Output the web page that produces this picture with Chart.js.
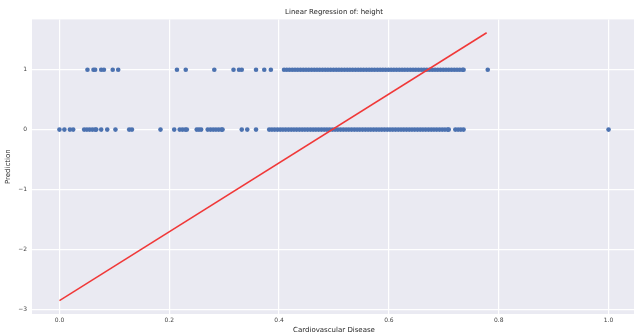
<!DOCTYPE html>
<html><head><meta charset="utf-8">
<script src="https://cdn.jsdelivr.net/npm/chart.js@4"></script>
<style>html,body{margin:0;padding:0;background:#fff;overflow:hidden}#wrap{width:640px;height:335px}</style>
</head><body><div id="wrap"><canvas id="c"></canvas></div>
<script>
const chartTitle = "Linear Regression of: height";
const xAxisTitle = "Cardiovascular Disease";
const yAxisTitle = "Prediction";
const xTickValues = [0, 0.2, 0.4, 0.6, 0.8, 1.0];
const xTickLabels = ["0.0", "0.2", "0.4", "0.6", "0.8", "1.0"];
const yTickValues = [-3, -2, -1, 0, 1];
const yTickLabels = ["\u22123", "\u22122", "\u22121", "0", "1"];

// observed x-values whose actual value is 1
const xClass1 = [0.051,0.062,0.065,0.076,0.081,0.097,0.107,0.214,0.230,0.282,0.317,0.327,0.332,0.358,0.373,0.385,
0.409,0.414,0.419,0.424,0.429,0.434,0.439,
0.444,0.449,0.454,0.459,0.464,0.469,0.474,0.479,0.484,0.489,0.494,0.499,0.504,0.509,0.514,0.519,0.524,0.529,0.534,0.539,0.544,0.549,0.554,0.559,0.564,0.569,0.574,0.579,0.584,0.589,0.594,0.599,0.604,0.609,0.614,0.619,0.624,0.629,0.634,0.639,0.644,0.649,0.654,0.659,0.664,0.669,0.674,0.679,0.684,0.689,0.694,0.699,0.704,0.709,0.714,0.719,0.724,0.729,0.734,0.736,
0.780];
// observed x-values whose actual value is 0
const xClass0 = [0.000,0.009,0.019,0.025,0.045,0.050,0.055,0.060,0.065,0.067,0.076,0.087,0.102,0.127,0.132,0.184,0.209,0.219,0.224,0.229,0.232,0.250,0.254,0.258,0.270,0.275,0.280,0.285,0.290,0.295,0.297,0.332,0.342,0.358,
0.382,0.387,0.392,0.397,0.402,0.407,0.412,0.417,0.422,0.427,0.432,0.437,0.442,0.447,0.452,0.457,0.462,0.467,0.472,0.477,0.482,0.487,0.492,0.497,0.502,0.507,0.512,0.517,0.522,0.527,0.532,0.537,0.542,0.547,0.552,0.557,0.562,0.567,0.572,0.577,0.582,0.587,0.592,0.597,0.602,0.607,0.612,0.617,0.622,0.627,0.632,0.637,0.642,0.647,0.652,0.657,0.662,0.667,0.672,0.677,0.682,0.687,0.692,0.697,0.702,0.707,0.709,
0.721,0.726,0.731,0.736,1.000];
// regression line endpoints
const lineX = [0.0, 0.778];
const lineY = [-2.857, 1.617];

const pts = xClass1.map(x => ({x: x, y: 1})).concat(xClass0.map(x => ({x: x, y: 0})));
const linePts = lineX.map((x, i) => ({x: x, y: lineY[i]}));

const bgPlugin = {
  id: 'bg',
  beforeDraw(chart) {
    const a = chart.chartArea, ctx = chart.ctx;
    ctx.save(); ctx.fillStyle = '#eaeaf2';
    ctx.fillRect(a.left, a.top, a.right - a.left, a.bottom - a.top);
    ctx.restore();
  }
};
const font = {family: 'DejaVu Sans', size: 6};
new Chart(document.getElementById('c'), {
  type: 'scatter',
  data: {datasets: [
    {type: 'line', data: linePts, borderColor: '#f03838', borderWidth: 1.5, pointRadius: 0, fill: false, order: 0},
    {data: pts, backgroundColor: '#4c72b0', borderColor: '#4c72b0', borderWidth: 0, pointRadius: 2.3, order: 1}
  ]},
  options: {
    responsive: true, maintainAspectRatio: false, animation: false,
    layout: {padding: {left: 4, right: 3, top: 4, bottom: 0}},
    plugins: {
      legend: {display: false}, tooltip: {enabled: false},
      title: {display: true, text: chartTitle, fullSize: false, color: '#262626',
        font: {family: 'DejaVu Sans', size: 7, weight: 'normal'}, padding: {top: 4, bottom: 3}}
    },
    scales: {
      x: {type: 'linear', min: -0.05, max: 1.05,
        afterBuildTicks: s => { s.ticks = xTickValues.map(v => ({value: v})); },
        ticks: {callback: (v) => xTickLabels[xTickValues.indexOf(v)] ?? '', color: '#444', font: font, padding: 3, maxRotation: 0},
        grid: {color: '#ffffff', lineWidth: 1.2, drawTicks: false},
        border: {display: false},
        title: {display: true, text: xAxisTitle, color: '#262626', font: {family: 'DejaVu Sans', size: 7}, padding: {top: 0, bottom: 1}},
        afterFit: s => { s.height = 21; }
      },
      y: {type: 'linear', min: -3.08, max: 1.84,
        afterBuildTicks: s => { s.ticks = yTickValues.map(v => ({value: v})); },
        ticks: {callback: (v) => yTickLabels[yTickValues.indexOf(v)] ?? '', color: '#444', font: font, padding: 5},
        grid: {color: '#ffffff', lineWidth: 1.2, drawTicks: false},
        border: {display: false},
        title: {display: true, text: yAxisTitle, color: '#262626', font: {family: 'DejaVu Sans', size: 7}, padding: {top: 0, bottom: 4}},
        afterFit: s => { s.width = 28; }
      }
    }
  },
  plugins: [bgPlugin]
});
</script></body></html>
